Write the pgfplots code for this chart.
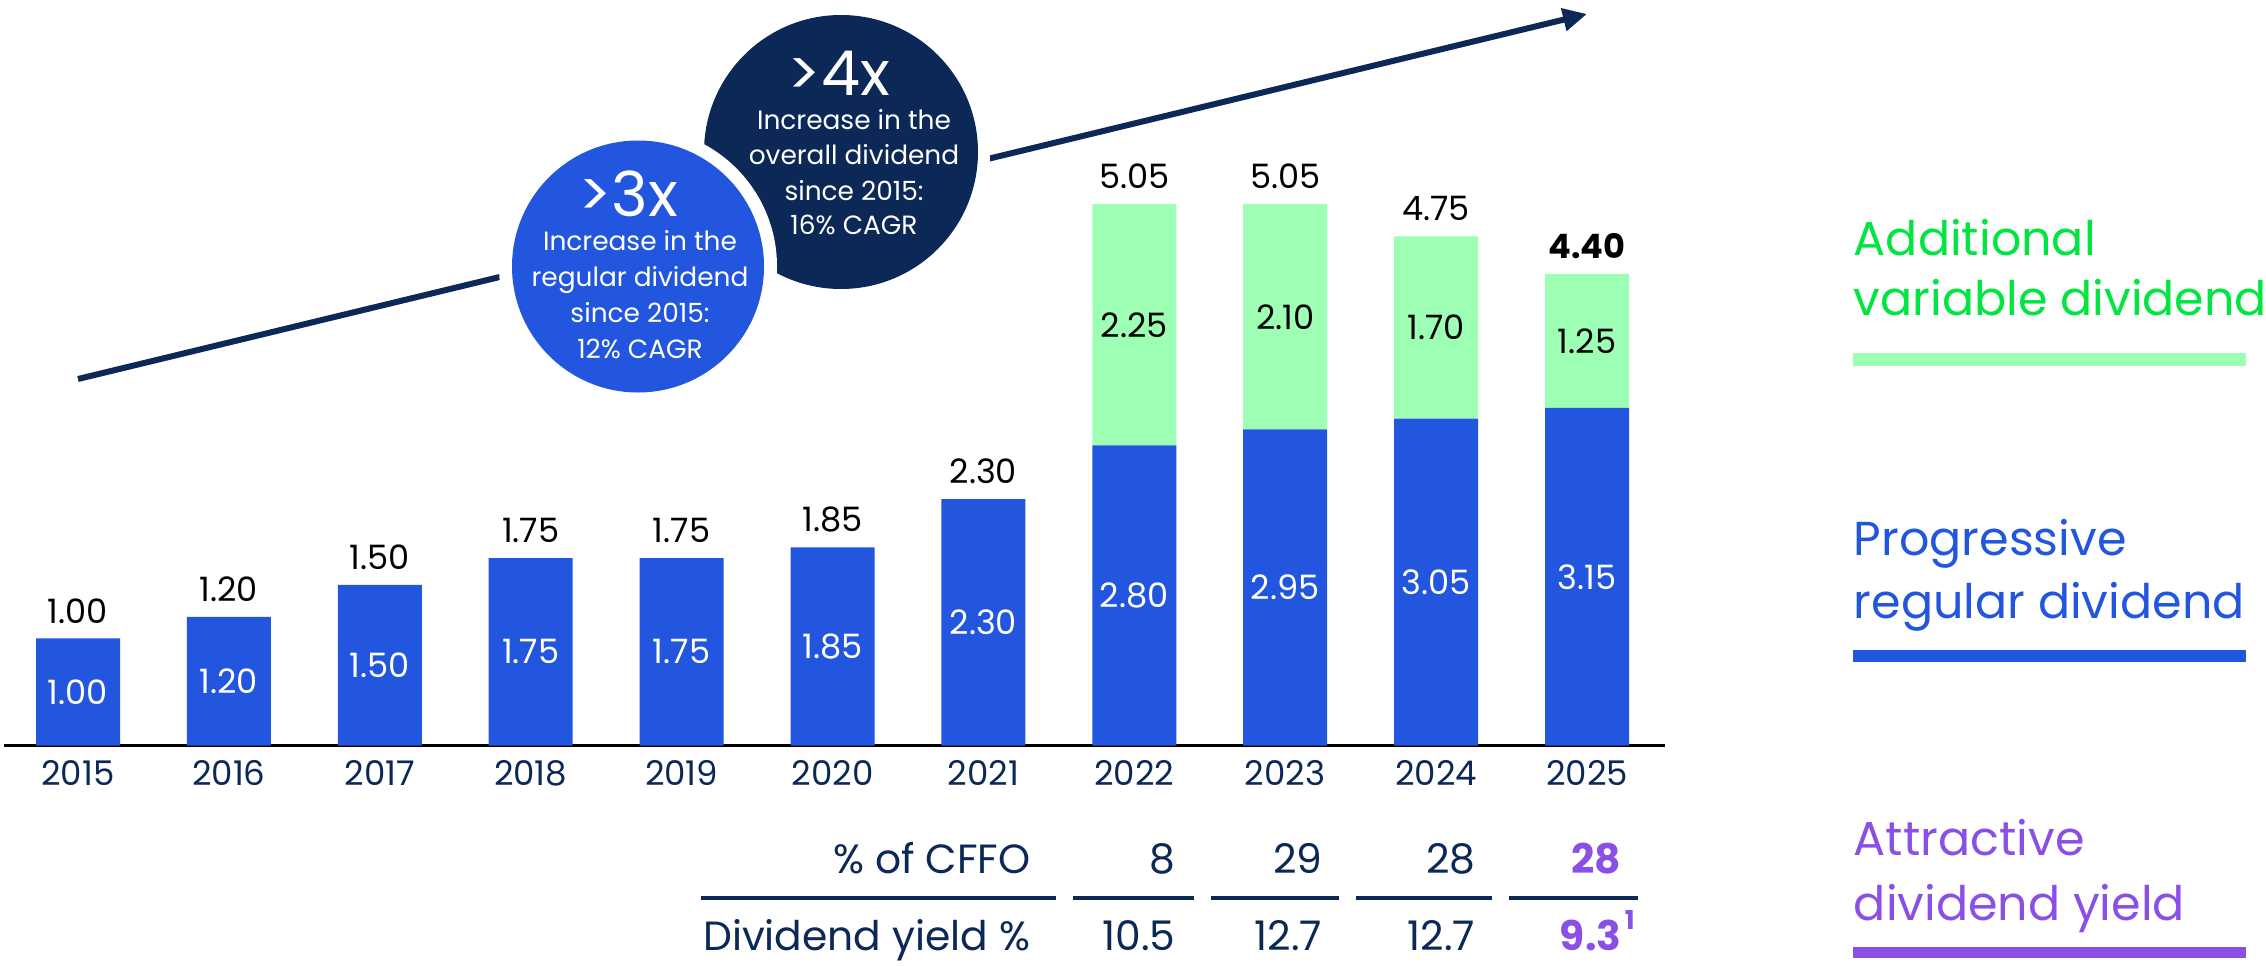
\documentclass[border=0pt]{standalone}
\usepackage{pgfplots}
\pgfplotsset{compat=1.18}
\usepackage{pgfplotstable}
\usepackage{fontspec}
\setmainfont{Poppins}
\usetikzlibrary{arrows.meta}
\definecolor{navy}{RGB}{11,40,86}
\definecolor{cblue}{RGB}{35,86,222}
\definecolor{lgreen}{RGB}{156,255,180}
\definecolor{tgreen}{RGB}{0,229,64}
\definecolor{cpurple}{RGB}{138,80,230}
\newcommand\fs[1]{\fontsize{#1}{#1}\selectfont}
\tikzset{
  lblw/.style={font=\fs{8.4}, text=white, anchor=center, inner sep=0pt},
  lblg/.style={font=\fs{8.4}, text=black, anchor=center, inner sep=0pt},
  lblt/.style={font=\fs{8.4}, text=black, anchor=base, inner sep=0pt, yshift=3.85pt},
}

\pgfplotstableread{
x reg var
0 1.00 0
1 1.20 0
2 1.50 0
3 1.75 0
4 1.75 0
5 1.85 0
6 2.30 0
7 2.80 2.25
8 2.95 2.10
9 3.05 1.70
10 3.15 1.25
}\divdata

\begin{document}
\begin{tikzpicture}
\path[use as bounding box] (-1pt,-54.85pt) rectangle (565.5pt,186.4pt);
\begin{axis}[
  at={(0pt,0pt)}, anchor=south west,
  scale only axis, width=415.25pt, height=186.4pt,
  xmin=-0.4904, xmax=10.517, ymin=0, ymax=6.955,
  ybar stacked, bar width=21pt,
  axis x line*=bottom, axis y line=none,
  x axis line style={-, black, line width=0.6pt},
  xtick={0,...,10},
  xticklabels={2015,2016,2017,2018,2019,2020,2021,2022,2023,2024,2025},
  major tick length=0pt,
  xticklabel style={font=\fs{8.5}, text=navy, anchor=base, yshift=-9.85pt, inner sep=0pt},
  ytick=\empty,
  clip=false,
]
\addplot[fill=cblue, draw=none] table[x=x, y=reg] {\divdata};
\addplot[fill=lgreen, draw=none] table[x=x, y=var] {\divdata};

\coordinate (w0) at (axis cs:0,0.5);
\coordinate (w1) at (axis cs:1,0.6);
\coordinate (w2) at (axis cs:2,0.75);
\coordinate (w3) at (axis cs:3,0.875);
\coordinate (w4) at (axis cs:4,0.875);
\coordinate (w5) at (axis cs:5,0.925);
\coordinate (w6) at (axis cs:6,1.15);
\coordinate (w7) at (axis cs:7,1.40);
\coordinate (w8) at (axis cs:8,1.475);
\coordinate (w9) at (axis cs:9,1.525);
\coordinate (w10) at (axis cs:10,1.575);
\coordinate (g7) at (axis cs:7,3.925);
\coordinate (g8) at (axis cs:8,4.00);
\coordinate (g9) at (axis cs:9,3.90);
\coordinate (g10) at (axis cs:10,3.775);
\coordinate (t0) at (axis cs:0,1.00);
\coordinate (t1) at (axis cs:1,1.20);
\coordinate (t2) at (axis cs:2,1.50);
\coordinate (t3) at (axis cs:3,1.75);
\coordinate (t4) at (axis cs:4,1.75);
\coordinate (t5) at (axis cs:5,1.85);
\coordinate (t6) at (axis cs:6,2.30);
\coordinate (t7) at (axis cs:7,5.05);
\coordinate (t8) at (axis cs:8,5.05);
\coordinate (t9) at (axis cs:9,4.75);
\coordinate (t10) at (axis cs:10,4.40);
\end{axis}

\node[lblw] at (w0) {1.00};
\node[lblw] at (w1) {1.20};
\node[lblw] at (w2) {1.50};
\node[lblw] at (w3) {1.75};
\node[lblw] at (w4) {1.75};
\node[lblw] at (w5) {1.85};
\node[lblw] at (w6) {2.30};
\node[lblw] at (w7) {2.80};
\node[lblw] at (w8) {2.95};
\node[lblw] at (w9) {3.05};
\node[lblw] at (w10) {3.15};
\node[lblg] at (g7) {2.25};
\node[lblg] at (g8) {2.10};
\node[lblg] at (g9) {1.70};
\node[lblg] at (g10) {1.25};
\node[lblt] at (t0) {1.00};
\node[lblt] at (t1) {1.20};
\node[lblt] at (t2) {1.50};
\node[lblt] at (t3) {1.75};
\node[lblt] at (t4) {1.75};
\node[lblt] at (t5) {1.85};
\node[lblt] at (t6) {2.30};
\node[lblt] at (t7) {5.05};
\node[lblt] at (t8) {5.05};
\node[lblt] at (t9) {4.75};
\node[lblt, font=\fs{8.4}\bfseries] at (t10) {4.40};

\begin{scope}[x=0.25pt,y=0.25pt]
% trend arrow
\draw[navy, line width=1.5pt, -{Triangle[length=6pt,width=5.5pt]}] (74,366.6) -- (1583,731.6);
% circles
\fill[white] (837,593.6) circle (149);
\fill[navy] (837,593.6) circle (137);
\fill[white] (634,479.1) circle (139);
\fill[cblue] (634,479.1) circle (126);
\begin{scope}[every node/.style={text=white, anchor=base, inner sep=0pt}]
\node[font=\fs{15.5}] at (835,650) {>4x};
\node[font=\fs{6.6}] at (850,615.6) {Increase in the};
\node[font=\fs{6.6}] at (850,580.6) {overall dividend};
\node[font=\fs{6.6}] at (850,545.6) {since 2015:};
\node[font=\fs{6.6}] at (850,510.6) {16\% CAGR};
\node[font=\fs{15.5}] at (624,529) {>3x};
\node[font=\fs{6.6}] at (636,494.6) {Increase in the};
\node[font=\fs{6.6}] at (636,459.6) {regular dividend};
\node[font=\fs{6.6}] at (636,423.6) {since 2015:};
\node[font=\fs{6.6}] at (636,387.6) {12\% CAGR};
\end{scope}
% legend
\begin{scope}[every node/.style={anchor=base west, inner sep=0pt, font=\fs{11.9}}]
\node[text=tgreen] at (1849,490.6) {Additional};
\node[text=tgreen] at (1849,430.6) {variable dividend};
\node[text=cblue] at (1849,190.6) {Progressive};
\node[text=cblue] at (1849,127.6) {regular dividend};
\node[text=cpurple] at (1849,-109.4) {Attractive};
\node[text=cpurple] at (1849,-174.4) {dividend yield};
\end{scope}
\fill[lgreen] (1849,379.6) rectangle (2242,392.6);
\fill[cblue] (1849,83.6) rectangle (2242,95.6);
\fill[cpurple] (1849,-212.4) rectangle (2242,-201.4);
% table
\begin{scope}[every node/.style={anchor=base east, inner sep=0pt, font=\fs{10.2}, text=navy}]
\node at (1027,-127.4) {\% of CFFO};
\node at (1027,-204.4) {Dividend yield \%};
\node at (1172,-127.4) {8};
\node at (1319,-127.4) {29};
\node at (1472,-127.4) {28};
\node[text=cpurple, font=\fs{10.2}\bfseries] at (1618,-127.4) {28};
\node at (1172,-204.4) {10.5};
\node at (1319,-204.4) {12.7};
\node at (1472,-204.4) {12.7};
\node[text=cpurple, font=\fs{10.2}\bfseries] at (1618,-204.4) {9.3};
\node[text=cpurple, font=\fs{6.5}\bfseries, anchor=base west] at (1620,-184) {1};
\end{scope}
\begin{scope}[navy, line width=1pt]
\draw (697,-152.4) -- (1052,-152.4);
\draw (1069,-152.4) -- (1190,-152.4);
\draw (1207,-152.4) -- (1335,-152.4);
\draw (1352,-152.4) -- (1488,-152.4);
\draw (1505,-152.4) -- (1634,-152.4);
\end{scope}
\end{scope}
\end{tikzpicture}
\end{document}
